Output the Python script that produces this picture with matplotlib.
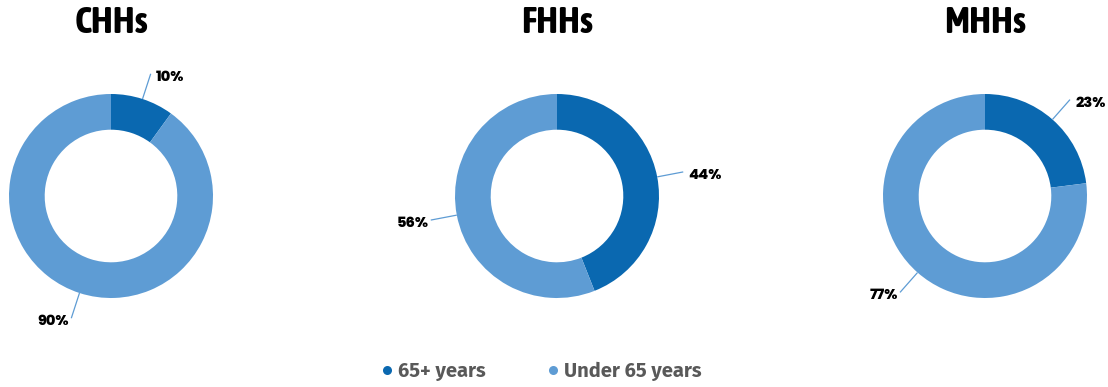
import numpy as np
import matplotlib
matplotlib.use("Agg")
import matplotlib.pyplot as plt
from matplotlib.lines import Line2D

groups = ["CHHs", "FHHs", "MHHs"]
series_names = ["65+ years", "Under 65 years"]
over65 = [10, 44, 23]
under65 = [90, 56, 77]

colors = ["#0A68B0", "#5E9CD4"]
line_color = "#5E9CD4"

title_font = ["Asap Condensed", "DejaVu Sans"]
legend_font = ["Fira Sans", "DejaVu Sans"]
label_font = ["Poppins", "DejaVu Sans"]

W, H = 1108, 387
fig = plt.figure(figsize=(W / 100, H / 100), dpi=100)

centers = [(111, 196), (557, 196), (985, 196)]
R = 102
span = 1.6

for (cx, cy), g, a, b in zip(centers, groups, over65, under65):
    size = 2 * span * R
    ax = fig.add_axes([(cx - size / 2) / W, 1 - (cy + size / 2) / H, size / W, size / H])
    vals = [a, b]
    wedges, _ = ax.pie(vals, colors=colors, startangle=90, counterclock=False,
                       radius=1.0, wedgeprops=dict(width=0.35, edgecolor="none"))
    ax.set_xlim(-span, span)
    ax.set_ylim(-span, span)
    ax.set_aspect("equal")
    ax.axis("off")
    for w, v in zip(wedges, vals):
        ang = np.deg2rad((w.theta1 + w.theta2) / 2)
        c, s = np.cos(ang), np.sin(ang)
        r0, r1 = 1.0, 1.26
        ax.plot([r0 * c, r1 * c], [r0 * s, r1 * s], color=line_color, lw=0.9,
                solid_capstyle="butt")
        ha = "left" if c >= 0 else "right"
        ax.text(r1 * c + (0.05 if c >= 0 else -0.02), r1 * s - 0.04, f"{v}%",
                ha=ha, va="center", fontsize=10.5, fontweight=800, color="black",
                family=label_font)
    fig.text(cx / W, 1 - 23 / H, g, ha="center", va="center", fontsize=27,
             fontweight="bold", family=title_font, color="black")

handles = [Line2D([], [], marker="o", linestyle="none", markersize=6.5,
                  markerfacecolor=c, markeredgecolor="none") for c in colors]
leg = fig.legend(handles, series_names, loc="center", bbox_to_anchor=(541 / W, 1 - 371 / H),
                 ncol=2, frameon=False, handletextpad=0.2, columnspacing=3.0,
                 handlelength=0.7,
                 prop=dict(family=legend_font, weight="bold", size=14.5))
for t in leg.get_texts():
    t.set_color("#595959")

fig.savefig("out.png", dpi=100)
